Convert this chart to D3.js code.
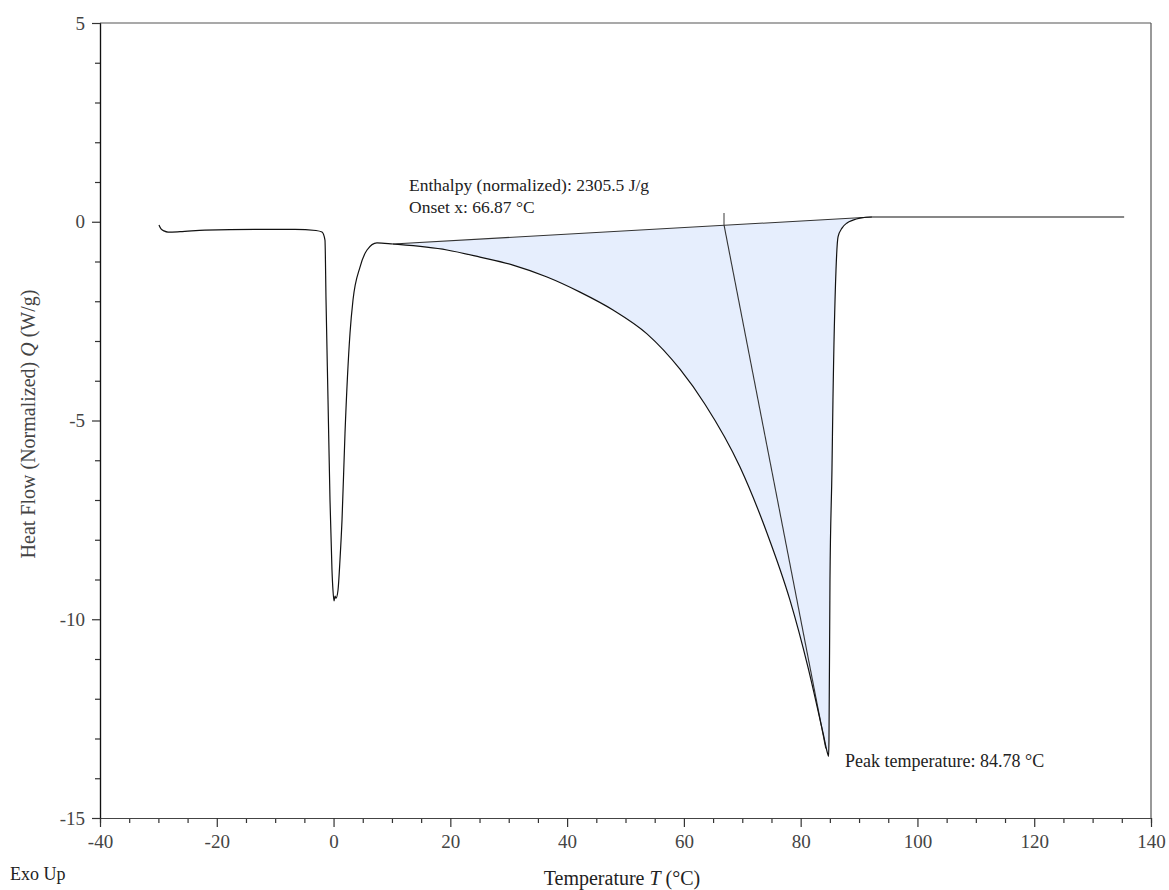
<!DOCTYPE html>
<html>
<head>
<meta charset="utf-8">
<script src="https://cdn.jsdelivr.net/npm/d3@7"></script>
<style>
  html, body { margin: 0; padding: 0; background: #fff; }
  svg { display: block; }
  text { font-family: "Liberation Serif", "Times New Roman", serif; }
</style>
</head>
<body>
<svg id="chart" width="1169" height="890"></svg>
<script>
// ---- data ----
const temperature = [-29.9, -29.55, -29.04, -28.35, -26.3, -22.02, -13.45, -6.6, -3.01, -1.98,
  -1.47, -1.29, -0.95, -0.61, -0.27, -0.1, 0.08, 0.25, 0.42, 0.76, 1.1, 1.45, 1.96, 2.82, 3.33,
  4.53, 5.73, 7.44, 10.18, 19.43, 25.08, 30.73, 36.56, 42.21, 47.86, 53.68, 59.33, 63.61, 69.61,
  74.23, 78.17, 81.26, 83.83, 84.68, 84.78, 84.85, 85.02, 85.36, 85.53, 86.05, 86.4, 87.08,
  87.94, 88.96, 90.16, 92.2, 100, 110, 120, 135.4];
const heatFlow = [-0.08, -0.18, -0.23, -0.26, -0.25, -0.21, -0.19, -0.19, -0.22, -0.26,
  -0.46, -1.97, -4.48, -7.0, -8.76, -9.27, -9.54, -9.42, -9.47, -9.27, -8.51, -7.5, -5.32, -2.8, -1.97,
  -1.14, -0.71, -0.53, -0.56, -0.71, -0.89, -1.09, -1.39, -1.77, -2.22, -2.82, -3.71, -4.59, -6.17,
  -7.83, -9.52, -11.21, -12.86, -13.41, -13.45, -13.04, -9.01, -6.25, -4.49, -1.22, -0.38, -0.16,
  -0.03, 0.04, 0.09, 0.12, 0.12, 0.12, 0.12, 0.12];

const baselineT = [10.18, 92.2];
const baselineQ = [-0.56, 0.12];
const onsetT = 66.87;
const onsetTickQ = [0.22, -0.08];
const tangentT = [66.87, 84.3];
const tangentQ = [-0.08, -13.25];

const xMajorTicks = [-40, -20, 0, 20, 40, 60, 80, 100, 120, 140];
const yMajorTicks = [-15, -10, -5, 0, 5];
const xMinorTicks = d3.range(-40, 141, 5).filter(v => v % 20 !== 0);
const yMinorTicks = d3.range(-15, 6, 1).filter(v => v % 5 !== 0);

const enthalpyLabel = "Enthalpy (normalized): 2305.5 J/g";
const onsetLabel = "Onset x: 66.87 °C";
const peakLabel = "Peak temperature: 84.78 °C";

// ---- drawing ----
const svg = d3.select("#chart");
const x = d3.scaleLinear().domain([-40, 140]).range([100, 1151]);
const y = d3.scaleLinear().domain([-15, 5]).range([818, 23]);

const pts = temperature.map((t, i) => ({ t, q: heatFlow[i] }));
const baseline = d3.scaleLinear().domain(baselineT).range(baselineQ);
const fmt = v => String(v); // hyphen-minus like the reference

// filled area between curve and baseline
const fillPts = pts.filter(d => d.t >= baselineT[0] && d.t <= baselineT[1]);
svg.append("path")
  .datum(fillPts)
  .attr("fill", "#e6eefd")
  .attr("stroke", "none")
  .attr("d", d3.area()
    .x(d => x(d.t))
    .y0(d => y(baseline(d.t)))
    .y1(d => y(d.q))
    .curve(d3.curveMonotoneX));

// frame (top & right)
svg.append("line").attr("x1", x(-40)).attr("x2", x(140)).attr("y1", y(5)).attr("y2", y(5))
  .attr("stroke", "#555").attr("stroke-width", 1.2);
svg.append("line").attr("x1", x(140)).attr("x2", x(140)).attr("y1", y(5)).attr("y2", y(-15))
  .attr("stroke", "#555").attr("stroke-width", 1.2);

// axes
function styleAxis(g) {
  g.selectAll(".domain").attr("stroke", "#444").attr("stroke-width", 1.2);
  g.selectAll(".tick line").attr("stroke", "#333").attr("stroke-width", 1.2);
  g.selectAll("text").attr("fill", "#444").style("font-size", "19px")
    .style("font-family", '"Liberation Serif", serif');
}
const xAxisMinor = svg.append("g").attr("transform", `translate(0,${y(-15)})`)
  .call(d3.axisBottom(x).tickValues(xMinorTicks).tickSize(5).tickFormat(""));
styleAxis(xAxisMinor);
const xAxis = svg.append("g").attr("transform", `translate(0,${y(-15)})`)
  .call(d3.axisBottom(x).tickValues(xMajorTicks).tickSize(9).tickSizeOuter(0).tickPadding(8).tickFormat(fmt));
styleAxis(xAxis);

const yAxisMinor = svg.append("g").attr("transform", `translate(${x(-40)},0)`)
  .call(d3.axisLeft(y).tickValues(yMinorTicks).tickSize(5).tickFormat(""));
styleAxis(yAxisMinor);
const yAxis = svg.append("g").attr("transform", `translate(${x(-40)},0)`)
  .call(d3.axisLeft(y).tickValues(yMajorTicks).tickSize(8).tickSizeOuter(0).tickPadding(7).tickFormat(fmt));
styleAxis(yAxis);
yAxis.selectAll(".domain").attr("stroke", "#111");

// baseline of integration
svg.append("line")
  .attr("x1", x(baselineT[0])).attr("y1", y(baselineQ[0]))
  .attr("x2", x(baselineT[1])).attr("y2", y(baselineQ[1]))
  .attr("stroke", "#333").attr("stroke-width", 1.1);

// onset tick and tangent
svg.append("line")
  .attr("x1", x(onsetT)).attr("y1", y(onsetTickQ[0]))
  .attr("x2", x(onsetT)).attr("y2", y(onsetTickQ[1]))
  .attr("stroke", "#666").attr("stroke-width", 1.3);
svg.append("line")
  .attr("x1", x(tangentT[0])).attr("y1", y(tangentQ[0]))
  .attr("x2", x(tangentT[1])).attr("y2", y(tangentQ[1]))
  .attr("stroke", "#333").attr("stroke-width", 1.1);

// DSC curve
svg.append("path")
  .datum(pts)
  .attr("fill", "none")
  .attr("stroke", "#111")
  .attr("stroke-width", 1.2)
  .attr("d", d3.line().x(d => x(d.t)).y(d => y(d.q)).curve(d3.curveMonotoneX));

// annotations
svg.append("text").attr("x", 409).attr("y", 191).attr("fill", "#222").style("font-size", "17.5px").text(enthalpyLabel);
svg.append("text").attr("x", 409).attr("y", 213).attr("fill", "#222").style("font-size", "17.5px").text(onsetLabel);
svg.append("text").attr("x", 845).attr("y", 767).attr("fill", "#222").style("font-size", "18px").text(peakLabel);

// axis titles
const xt = svg.append("text").attr("x", 622).attr("y", 885).attr("text-anchor", "middle")
  .attr("fill", "#222").style("font-size", "20px");
xt.append("tspan").text("Temperature ");
xt.append("tspan").style("font-style", "italic").text("T");
xt.append("tspan").text(" (°C)");

const yt = svg.append("text").attr("transform", "translate(35,424) rotate(-90)").attr("text-anchor", "middle")
  .attr("fill", "#444").style("font-size", "20px");
yt.append("tspan").text("Heat Flow (Normalized) ");
yt.append("tspan").style("font-style", "italic").text("Q");
yt.append("tspan").text(" (W/g)");

svg.append("text").attr("x", 10).attr("y", 880).attr("fill", "#222").style("font-size", "18px").text("Exo Up");
</script>
</body>
</html>
